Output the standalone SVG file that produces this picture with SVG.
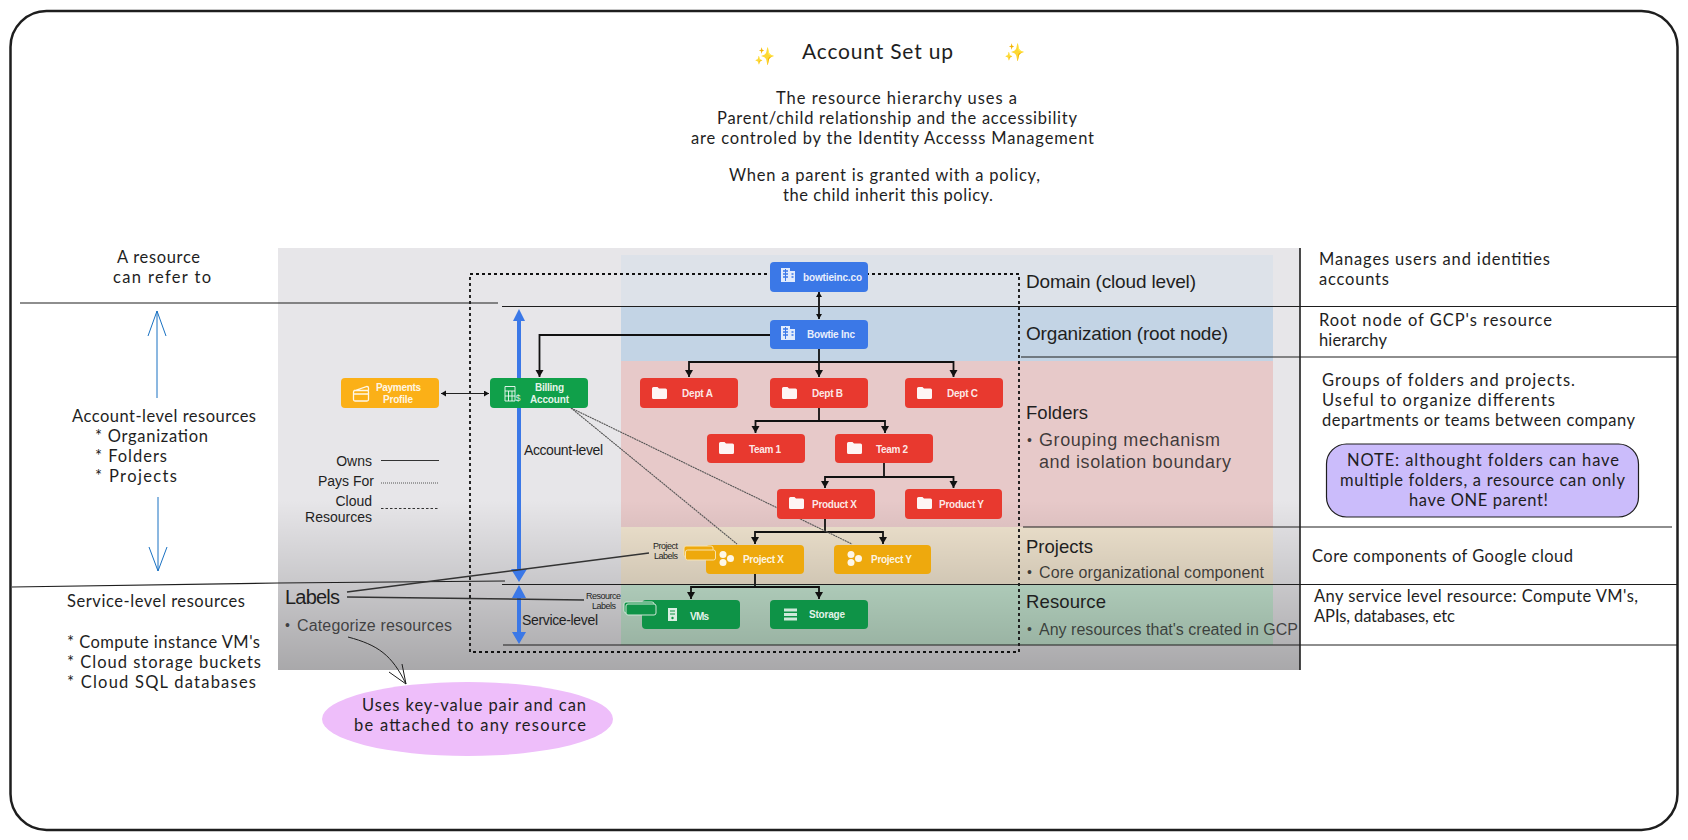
<svg xmlns="http://www.w3.org/2000/svg" width="1688" height="840" viewBox="0 0 1688 840">
<style>
.h{font-family:"Lato","Open Sans",sans-serif;font-size:16.5px;fill:#1e1e1e}
.s{font-family:"Liberation Sans",Arial,sans-serif;fill:#1f1f1f}
.n{font-family:"Liberation Sans",Arial,sans-serif;font-size:10px;font-weight:700;fill:#fff;fill-opacity:.9}
.b{fill:#3b78e7}.r{fill:#e8392f}.y{fill:#fbb017}.p{fill:#eea90d}.g{fill:#10a04a}
.lk{fill:none;stroke:#111;stroke-width:1.8}
.ln{fill:none;stroke:#1e1e1e;stroke-width:1.2}
</style>
<defs>
<marker id="ah" markerUnits="userSpaceOnUse" markerWidth="9" markerHeight="9" refX="7" refY="4" orient="auto-start-reverse"><path d="M0 0L7 4L0 8z" fill="#111"/></marker>
<marker id="as" markerUnits="userSpaceOnUse" markerWidth="7" markerHeight="7" refX="5" refY="3" orient="auto-start-reverse"><path d="M0 0L5 3L0 6z" fill="#111"/></marker>
<linearGradient id="shade" x1="0" y1="0" x2="0" y2="1"><stop offset="0" stop-color="#000" stop-opacity="0"/><stop offset="1" stop-color="#000" stop-opacity=".27"/></linearGradient>
<symbol id="folder" width="15" height="12" viewBox="0 0 15 12"><path d="M0 1.5Q0 0 1.5 0H5.5L7 1.5H13.5Q15 1.5 15 3V10.5Q15 12 13.5 12H1.5Q0 12 0 10.5z" fill="#fff" fill-opacity=".95"/></symbol>
<symbol id="bldg" width="14" height="14" viewBox="0 0 14 14"><path d="M0 0H9V3H14V14H0z" fill="#fff" fill-opacity=".85"/><path d="M2 3H7M2 6H7M2 9H7M10.500 6H12.500M10.500 9H12.500" stroke="#3b78e7" stroke-width="1.300"/><path d="M4.500 1V13" stroke="#3b78e7" stroke-width="1"/></symbol>
<symbol id="hex" width="15" height="15" viewBox="0 0 15 15"><circle cx="4" cy="3.500" r="3.500" fill="#fff" fill-opacity=".9"/><circle cx="11.500" cy="7.500" r="3.500" fill="#fff" fill-opacity=".9"/><circle cx="4" cy="11.500" r="3.500" fill="#fff" fill-opacity=".9"/></symbol>
</defs>
<rect width="1688" height="840" fill="#fff"/>
<rect id="frame" x="10.500" y="11" width="1667" height="819" rx="36" fill="none" stroke="#1e1e1e" stroke-width="2.500"/>

<g id="panel">
<rect x="278" y="248" width="1022" height="422" fill="#e7e6e9"/>
<rect x="621" y="255" width="652" height="52" fill="#dde2e9"/>
<rect x="621" y="307" width="652" height="54" fill="#c3d4e5"/>
<rect x="621" y="361" width="652" height="166" fill="#e7c9c9"/>
<rect x="621" y="527" width="652" height="58" fill="#f1e5d0"/>
<rect x="621" y="585" width="652" height="60" fill="#c8e9d4"/>
<rect x="278" y="500" width="1022" height="170" fill="url(#shade)"/>
<rect x="470" y="274" width="549" height="378" fill="none" stroke="#111" stroke-width="1.800" stroke-dasharray="3 3"/>
</g>

<g id="connectors">
<path class="lk" marker-end="url(#ah)" d="M770 335H539.500V377"/>
<path class="lk" marker-start="url(#as)" marker-end="url(#as)" d="M819 292V319"/>
<path class="lk" d="M819 349V362"/>
<path class="lk" marker-end="url(#ah)" d="M819 362V377"/>
<path class="lk" marker-end="url(#ah)" d="M819 362H689V377"/>
<path class="lk" marker-end="url(#ah)" d="M819 362H953.500V377"/>
<path class="lk" d="M819 408V421"/>
<path class="lk" marker-end="url(#ah)" d="M819 421H755.500V433"/>
<path class="lk" marker-end="url(#ah)" d="M819 421H885V433"/>
<path class="lk" d="M884 463V477"/>
<path class="lk" marker-end="url(#ah)" d="M884 477H825V488"/>
<path class="lk" marker-end="url(#ah)" d="M884 477H953.500V488"/>
<path class="lk" d="M825 519V532"/>
<path class="lk" marker-end="url(#ah)" d="M825 532H755V544"/>
<path class="lk" marker-end="url(#ah)" d="M825 532H883V544"/>
<path class="lk" d="M755 574V587"/>
<path class="lk" marker-end="url(#ah)" d="M755 587H691V599"/>
<path class="lk" marker-end="url(#ah)" d="M755 587H819V599"/>
<path fill="none" stroke="#222" stroke-width="1.200" marker-start="url(#as)" marker-end="url(#as)" d="M441 393.500H489"/>
<path fill="none" stroke="#555" stroke-width="1.100" stroke-dasharray="2 .6" d="M571 408L737 544"/>
<path fill="none" stroke="#555" stroke-width="1.100" stroke-dasharray="2 .6" d="M571 408L852 544"/>
<path fill="#3b78e7" d="M517 321H521V569H527L519 582L511 569H517z"/>
<path fill="#3b78e7" d="M513 321L519 309L525 321z"/>
<path fill="#3b78e7" d="M517 598H521V632H526L519 644L512 632H517z"/>
<path fill="#3b78e7" d="M512 598L519 585L526 598z"/>
<path class="ln" d="M20 303H498"/>
<path class="ln" d="M502 306.500H1678"/>
<path class="ln" d="M1021 357H1678"/>
<path class="ln" d="M1023 527H1672"/>
<path class="ln" d="M12 587L278 583L505 581"/>
<path class="ln" d="M502 584.500H1678"/>
<path class="ln" d="M503 645H1678"/>
<path d="M1300 248V670" fill="none" stroke="#1e1e1e" stroke-width="1.600"/>
<path d="M347 592L649 553" fill="none" stroke="#333" stroke-width="1.500"/>
<path d="M347 597L584 600" fill="none" stroke="#333" stroke-width="1.500"/>
<path d="M348 637C378 645 392 655 406 684M389 672L406 684L402 664" fill="none" stroke="#1e1e1e" stroke-width="1"/>
<path d="M157 398L157 311M148 336L157 311L166 336" fill="none" stroke="#1971c2" stroke-width="1"/>
<path d="M158 497V571M149 547L158 571L167 547" fill="none" stroke="#1971c2" stroke-width="1"/>
</g>

<g id="node-domain"><rect class="b" x="770" y="262" width="98" height="30" rx="4"/><use href="#bldg" x="781" y="268"/><text class="n" x="803" y="281" textLength="59">bowtieinc.co</text></g>
<g id="node-org"><rect class="b" x="770" y="320" width="98" height="29" rx="4"/><use href="#bldg" x="781" y="326"/><text class="n" x="807" y="338" textLength="48">Bowtie Inc</text></g>
<g id="node-payments"><rect class="y" x="341" y="378" width="98" height="30" rx="4"/>
<path d="M355 390.500L367 386.500Q368.500 386.500 368.500 388V390.500M354 390.500H367.500Q368.500 390.500 368.500 392V399.500Q368.500 401 367 401H355Q353.500 401 353.500 399.500V392Q353.500 390.500 355 390.500ZM353.500 394H368.500" fill="none" stroke="#fff" stroke-opacity=".9" stroke-width="1.300"/>
<text class="n" x="376" y="391" textLength="45">Payments</text><text class="n" x="383" y="403" textLength="30">Profile</text></g>
<g id="node-billing"><rect class="g" x="490" y="378" width="98" height="30" rx="4"/>
<path d="M505 386.500H515V401H505zM505 391H515M508.500 391V401M512 391V401M505 396H515" fill="none" stroke="#fff" stroke-opacity=".85" stroke-width="1"/>
<text x="515.500" y="401" font-family="Liberation Sans,sans-serif" font-size="9" fill="#fff" fill-opacity=".85">$</text>
<text class="n" x="535" y="391" textLength="29">Billing</text><text class="n" x="530" y="403" textLength="39">Account</text></g>
<g id="node-dept-a"><rect class="r" x="640" y="378" width="98" height="30" rx="4"/><use href="#folder" x="652" y="387"/><text class="n" x="682" y="397" textLength="31">Dept A</text></g>
<g id="node-dept-b"><rect class="r" x="770" y="378" width="98" height="30" rx="4"/><use href="#folder" x="782" y="387"/><text class="n" x="812" y="397" textLength="31">Dept B</text></g>
<g id="node-dept-c"><rect class="r" x="905" y="378" width="98" height="30" rx="4"/><use href="#folder" x="917" y="387"/><text class="n" x="947" y="397" textLength="31">Dept C</text></g>
<g id="node-team-1"><rect class="r" x="707" y="434" width="98" height="29" rx="4"/><use href="#folder" x="719" y="442"/><text class="n" x="749" y="453" textLength="32">Team 1</text></g>
<g id="node-team-2"><rect class="r" x="835" y="434" width="98" height="29" rx="4"/><use href="#folder" x="847" y="442"/><text class="n" x="876" y="453" textLength="32">Team 2</text></g>
<g id="node-product-x"><rect class="r" x="777" y="489" width="98" height="30" rx="4"/><use href="#folder" x="789" y="497"/><text class="n" x="812" y="508" textLength="45">Product X</text></g>
<g id="node-product-y"><rect class="r" x="905" y="489" width="97" height="30" rx="4"/><use href="#folder" x="917" y="497"/><text class="n" x="939" y="508" textLength="45">Product Y</text></g>
<g id="node-project-x"><rect class="p" x="706" y="545" width="98" height="29" rx="4"/><use href="#hex" x="719" y="551"/><text class="n" x="743" y="563" textLength="41">Project X</text></g>
<g id="node-project-y"><rect class="p" x="834" y="545" width="97" height="29" rx="4"/><use href="#hex" x="847" y="551"/><text class="n" x="871" y="563" textLength="41">Project Y</text></g>
<g id="node-vms"><rect x="642" y="600" width="98" height="29" rx="4" fill="#0e9347"/>
<path d="M668 608H677V621H668z" fill="#fff" fill-opacity=".85"/><path d="M670 611H675M670 614H675" stroke="#0e9347" stroke-width="1"/><circle cx="672.500" cy="618" r="1.200" fill="#0e9347"/>
<text class="n" x="690" y="620" textLength="19">VMs</text></g>
<g id="node-storage"><rect x="770" y="600" width="98" height="29" rx="4" fill="#0e9347"/>
<path d="M784 608.500H797V611.500H784zM784 613H797V616H784zM784 617.500H797V620.500H784z" fill="#fff" fill-opacity=".8"/>
<text class="n" x="809" y="618" textLength="36">Storage</text></g>

<g id="label-badges">
<rect x="684" y="546" width="29" height="11" rx="2" fill="#eea90d" stroke="#f7e3b0" stroke-width="1"/>
<rect x="685.500" y="550" width="30" height="10" rx="2" fill="#eea90d" stroke="#f7e3b0" stroke-width="1"/>
<rect x="624" y="602" width="30" height="11" rx="2" fill="#0e9347" stroke="#cfe6d6" stroke-width="1"/>
<rect x="626" y="604" width="30" height="11" rx="2" fill="#0e9347" stroke="#cfe6d6" stroke-width="1"/>
<text class="s" font-size="9" x="653" y="549" textLength="25">Project</text><text class="s" font-size="9" x="654" y="559" textLength="24">Labels</text>
<text class="s" font-size="9" x="586" y="599" textLength="35">Resource</text><text class="s" font-size="9" x="592" y="609" textLength="24">Labels</text>
</g>

<g id="panel-labels">
<text class="s" font-size="19" x="1026" y="288" textLength="170">Domain (cloud level)</text>
<text class="s" font-size="19" x="1026" y="340" textLength="202">Organization (root node)</text>
<text class="s" font-size="18.500" x="1026" y="419" textLength="62">Folders</text>
<text class="s" font-size="14" fill-opacity=".85" x="1027" y="445">•</text>
<text class="s" font-size="18" fill-opacity=".85" x="1039" y="446" textLength="181">Grouping mechanism</text>
<text class="s" font-size="18" fill-opacity=".85" x="1039" y="468" textLength="192">and isolation boundary</text>
<text class="s" font-size="18.500" x="1026" y="553" textLength="67">Projects</text>
<text class="s" font-size="14" fill-opacity=".85" x="1027" y="577">•</text>
<text class="s" font-size="16" fill-opacity=".85" x="1039" y="578" textLength="225">Core organizational component</text>
<text class="s" font-size="18.500" x="1026" y="608" textLength="80">Resource</text>
<text class="s" font-size="14" fill-opacity=".8" x="1027" y="634">•</text>
<text class="s" font-size="16" fill-opacity=".8" x="1039" y="635" textLength="259">Any resources that's created in GCP</text>
<text class="s" font-size="14" x="372" y="466" text-anchor="end">Owns</text>
<text class="s" font-size="14" x="374" y="486" text-anchor="end">Pays For</text>
<text class="s" font-size="14" x="372" y="506" text-anchor="end">Cloud</text>
<text class="s" font-size="14" x="372" y="522" text-anchor="end">Resources</text>
<path d="M381 460.500H439" stroke="#333" stroke-width="1.200"/>
<path d="M381 483H439" stroke="#555" stroke-width="1.200" stroke-dasharray="1 1"/>
<path d="M381 508.500H439" stroke="#333" stroke-width="1.200" stroke-dasharray="2.500 2"/>
<text class="s" font-size="14" x="524" y="455" textLength="79">Account-level</text>
<text class="s" font-size="14" x="522" y="625" textLength="76">Service-level</text>
<text class="s" font-size="20" x="285" y="604" textLength="55">Labels</text>
<text class="s" font-size="14" fill-opacity=".8" x="285" y="630">•</text>
<text class="s" font-size="16" fill-opacity=".8" x="297" y="631" textLength="155">Categorize resources</text>
</g>

<g id="title">
<text x="754" y="62" font-family="DejaVu Sans,sans-serif" font-size="17" fill="#f5d23c">✨</text>
<text x="1004" y="58" font-family="DejaVu Sans,sans-serif" font-size="17" fill="#f5d23c">✨</text>
<text class="h" style="font-size:21px" x="802" y="59" textLength="151">Account Set up</text>
<text class="h" x="776" y="104" textLength="241">The resource hierarchy uses a</text>
<text class="h" x="717" y="124" textLength="360">Parent/child relationship and the accessibility</text>
<text class="h" x="691" y="144" textLength="403">are controled by the Identity Accesss Management</text>
<text class="h" x="729" y="181" textLength="311">When a parent is granted with a policy,</text>
<text class="h" x="783" y="201" textLength="210">the child inherit this policy.</text>
</g>

<g id="notes-left">
<text class="h" x="117" y="263" textLength="83">A resource</text>
<text class="h" x="113" y="283" textLength="98">can refer to</text>
<text class="h" x="72" y="422" textLength="184">Account-level resources</text>
<text class="h" x="95" y="442" textLength="113">* Organization</text>
<text class="h" x="95" y="462" textLength="72">* Folders</text>
<text class="h" x="95" y="482" textLength="82">* Projects</text>
<text class="h" x="67" y="607" textLength="178">Service-level resources</text>
<text class="h" x="67" y="648" textLength="193">* Compute instance VM's</text>
<text class="h" x="67" y="668" textLength="194">* Cloud storage buckets</text>
<text class="h" x="67" y="688" textLength="189">* Cloud SQL databases</text>
</g>

<g id="notes-right">
<text class="h" x="1319" y="265" textLength="231">Manages users and identities</text>
<text class="h" x="1319" y="285" textLength="70">accounts</text>
<text class="h" x="1319" y="326" textLength="233">Root node of GCP's resource</text>
<text class="h" x="1319" y="346" textLength="68">hierarchy</text>
<text class="h" x="1322" y="386" textLength="253">Groups of folders and projects.</text>
<text class="h" x="1322" y="406" textLength="233">Useful to organize differents</text>
<text class="h" x="1322" y="426" textLength="313">departments or teams between company</text>
<text class="h" x="1312" y="562" textLength="261">Core components of Google cloud</text>
<text class="h" x="1314" y="602" textLength="324">Any service level resource: Compute VM's,</text>
<text class="h" x="1314" y="622" textLength="141">APIs, databases, etc</text>
</g>

<g id="note-box">
<rect x="1326.500" y="444" width="312" height="73" rx="20" fill="#cbbcfb" stroke="#1e1e1e" stroke-width="1.200"/>
<text class="h" x="1347" y="466" textLength="272">NOTE: althought folders can have</text>
<text class="h" x="1340" y="486" textLength="285">multiple folders, a resource can only</text>
<text class="h" x="1409" y="506" textLength="139">have ONE parent!</text>
</g>

<g id="labels-note">
<ellipse cx="467.500" cy="719" rx="145.500" ry="37" fill="#eebefa"/>
<text class="h" x="362" y="711" textLength="224">Uses key-value pair and can</text>
<text class="h" x="354" y="731" textLength="232">be attached to any resource</text>
</g>
</svg>
